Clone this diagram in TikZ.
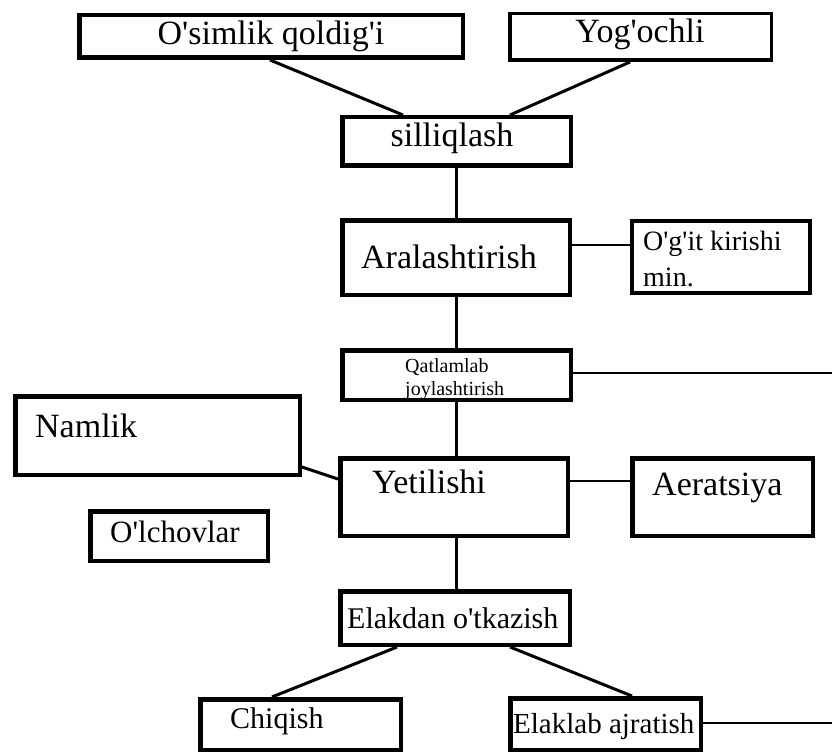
\documentclass[tikz,border=0pt]{standalone}
\usepackage{fontspec}
\setmainfont{Liberation Serif}[Ligatures=TeXOff]
\begin{document}
\begin{tikzpicture}[x=1pt,y=-1pt,
  box/.style={draw, rectangle, line width=4.5pt, inner sep=0pt},
  lbl/.style={inner sep=0pt, anchor=base},
  lblw/.style={inner sep=0pt, anchor=base west},
  fa/.style={font=\fontsize{34}{40}\selectfont},
  fb/.style={font=\fontsize{30}{36}\selectfont},
  fc/.style={font=\fontsize{28}{34}\selectfont},
  fd/.style={font=\fontsize{20}{23}\selectfont},
  conn/.style={line width=3pt},
  thinconn/.style={line width=2pt}]
\useasboundingbox (0,0) rectangle (832,754);
% boxes
\node[box, minimum width=383.5pt, minimum height=42.5pt] (osim) at (271,36.5) {};
\node[box, line width=3.5pt, minimum width=261.5pt, minimum height=46.5pt] (yog) at (640.5,37) {};
\node[box, minimum width=228.5pt, minimum height=48.5pt] (sil) at (456.5,141.5) {};
\node[box, minimum width=227.5pt, minimum height=74.5pt] (aral) at (456,257.5) {};
\node[box, line width=4pt, minimum width=178pt, minimum height=72pt] (ogit) at (721,257) {};
\node[box, minimum width=228.5pt, minimum height=49.5pt] (qat) at (456.5,375) {};
\node[box, minimum width=284.5pt, minimum height=78.5pt] (nam) at (157.5,435.5) {};
\node[box, minimum width=227.5pt, minimum height=77.5pt] (yet) at (454,497) {};
\node[box, minimum width=180.5pt, minimum height=77.5pt] (aer) at (722.5,497) {};
\node[box, minimum width=177.5pt, minimum height=49.5pt] (olc) at (179,536) {};
\node[box, minimum width=229.5pt, minimum height=53.5pt] (elk) at (455,618) {};
\node[box, minimum width=200.5pt, minimum height=50.5pt] (chi) at (300.5,724.5) {};
\node[box, minimum width=190.5pt, minimum height=51.5pt] (ela) at (605.5,724) {};
% texts
\node[lbl, fa] (tosim) at (271,45) {O'simlik qoldig'i};
\node[lbl, fa] (tyog) at (640,43) {Yog'ochli};
\node[lbl, fa] (tsil) at (452,147) {silliqlash};
\node[lbl, fa] (taral) at (449,268) {Aralashtirish};
\node[lblw, fc] (togita) at (643,250) {O'g'it kirishi};
\node[lblw, fc] (togitb) at (643,286) {min.};
\node[lblw, fd] (tqata) at (405,372) {Qatlamlab};
\node[lblw, fd] (tqatb) at (405,395) {joylashtirish};
\node[lblw, fa] (tnam) at (35,437) {Namlik};
\node[lblw, fa] (tyet) at (372,493) {Yetilishi};
\node[lblw, fa] (taer) at (652,495) {Aeratsiya};
\node[lblw, font=\fontsize{31}{36}\selectfont] (tolc) at (110,542) {O'lchovlar};
\node[lblw, fb] (telk) at (347,628) {Elakdan o'tkazish};
\node[lblw, fb] (tchi) at (230,728) {Chiqish};
\node[lblw, font=\fontsize{29}{34}\selectfont] (tela) at (513,733) {Elaklab ajratish};
% free ends
\coordinate (qatend) at (832,373);
\coordinate (elaend) at (832,723);
% connectors
\draw[conn] ([xshift=-1pt]osim.south) -- ([xshift=-53.5pt]sil.north);
\draw[conn] ([xshift=-10.5pt]yog.south) -- ([xshift=53.5pt]sil.north);
\draw[conn] (sil.south) -- (sil.south |- aral.north);
\draw[thinconn] ([yshift=12.5pt]aral.east) -- ([yshift=12.5pt]aral.east -| ogit.west);
\draw[conn] (aral.south) -- (aral.south |- qat.north);
\draw[thinconn] ([yshift=2pt]qat.east) -- (qatend);
\draw[conn] (qat.south) -- (qat.south |- yet.north);
\draw[conn] ([xshift=-3pt,yshift=-30.5pt]nam.east) -- ([yshift=18pt]yet.west);
\draw[thinconn] ([yshift=16pt]yet.east) -- ([yshift=16pt]yet.east -| aer.west);
\draw[conn] (yet.south -| qat.south) -- (qat.south |- elk.north);
\draw[conn] ([xshift=-58pt]elk.south) -- ([xshift=-28.5pt]chi.north);
\draw[conn] ([xshift=55pt]elk.south) -- ([xshift=26.5pt]ela.north);
\draw[thinconn] ([yshift=1pt]ela.east) -- (elaend);
\end{tikzpicture}
\end{document}
